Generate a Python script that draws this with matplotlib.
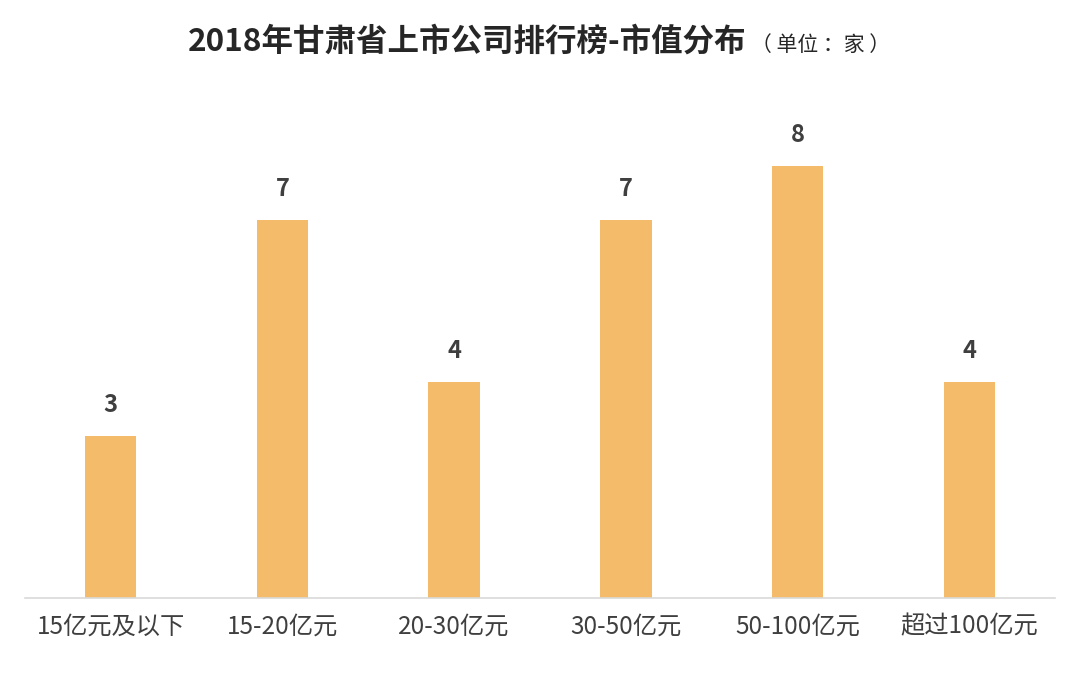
import matplotlib.pyplot as plt

plt.rcParams['font.family'] = ['Noto Sans CJK SC', 'DejaVu Sans']

categories = ["15亿元及以下", "15-20亿元", "20-30亿元", "30-50亿元", "50-100亿元", "超过100亿元"]
counts = [3, 7, 4, 7, 8, 4]

BAR_COLOR = "#F4BC6A"
TEXT_COLOR = "#3F3F3F"

fig = plt.figure(figsize=(10.8, 6.75), dpi=100)
ax = fig.add_axes([0.023, 0.114, 0.954, 0.72])

x = range(len(categories))
ax.bar(x, counts, width=0.30, color=BAR_COLOR, zorder=2)
for xi, v in zip(x, counts):
    ax.annotate(str(v), (xi, v), textcoords="offset points", xytext=(0, 14),
                ha="center", va="bottom", fontsize=17, fontweight="bold", color=TEXT_COLOR)

ax.set_xlim(-0.5, len(categories) - 0.5)
ax.set_ylim(0, 9)
ax.set_xticks(list(x))
ax.set_xticklabels(categories, fontsize=17.5, color=TEXT_COLOR)
ax.tick_params(axis="x", length=0, pad=11)
ax.set_yticks([])
for side in ["top", "right", "left"]:
    ax.spines[side].set_visible(False)
ax.spines["bottom"].set_color("#D9D9D9")
ax.spines["bottom"].set_linewidth(1.2)

# title, then the unit note placed right after it
title = fig.text(0.174, 0.938, "2018年甘肃省上市公司排行榜-市值分布", ha="left", va="center",
                 fontsize=22.7, fontweight="bold", color="#262626")
fig.canvas.draw()
bb = title.get_window_extent().transformed(fig.transFigure.inverted())
fig.text(bb.x1 + 0.004, 0.934, "（ 单位 ：家 ）", ha="left", va="center", fontsize=15, color="#262626")

fig.savefig("out.png", dpi=100)
